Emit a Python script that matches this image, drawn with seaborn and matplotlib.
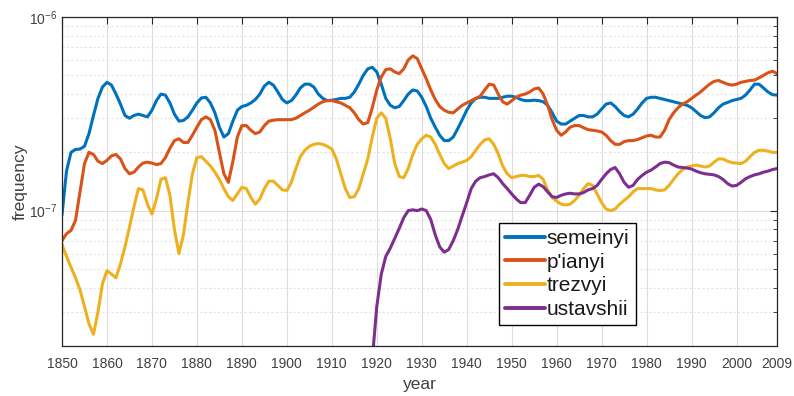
import numpy as np
import pandas as pd
import matplotlib
matplotlib.use("Agg")
import matplotlib.pyplot as plt
from matplotlib.ticker import LogLocator, NullFormatter, FixedLocator
import seaborn as sns

# Yearly relative frequencies, in units of 1e-7
years = list(range(1850, 2010))

semeinyi_e7 = [
    0.95, 1.6, 2.0, 2.07, 2.08, 2.15, 2.5, 3.1, 3.8, 4.35,
    4.6, 4.45, 4.0, 3.55, 3.1, 3.0, 3.1, 3.15, 3.1, 3.05,
    3.3, 3.7, 4.0, 3.95, 3.6, 3.15, 2.9, 2.92, 3.05, 3.3,
    3.6, 3.82, 3.85, 3.6, 3.2, 2.7, 2.4, 2.5, 2.9, 3.3,
    3.45, 3.5, 3.6, 3.75, 4.0, 4.4, 4.6, 4.45, 4.1, 3.75,
    3.6, 3.7, 3.95, 4.3, 4.5, 4.5, 4.35, 4.0, 3.8, 3.7,
    3.72, 3.75, 3.8, 3.8, 3.85, 4.1, 4.5, 5.0, 5.4, 5.5,
    5.2, 4.5, 3.8, 3.5, 3.4, 3.45, 3.7, 4.0, 4.2, 4.15,
    3.85, 3.45, 3.0, 2.7, 2.45, 2.3, 2.3, 2.4, 2.65, 2.95,
    3.3, 3.6, 3.8, 3.85, 3.85, 3.8, 3.8, 3.8, 3.85, 3.9,
    3.9, 3.85, 3.75, 3.7, 3.7, 3.72, 3.7, 3.65, 3.5, 3.2,
    2.9, 2.8, 2.8, 2.9, 3.0, 3.1, 3.1, 3.05, 3.05, 3.15,
    3.35, 3.55, 3.6, 3.45, 3.25, 3.1, 3.05, 3.15, 3.35, 3.6,
    3.8, 3.85, 3.85, 3.8, 3.75, 3.7, 3.65, 3.6, 3.55, 3.5,
    3.4, 3.25, 3.1, 3.02, 3.05, 3.2, 3.4, 3.55, 3.62, 3.7,
    3.75, 3.8, 3.95, 4.2, 4.5, 4.5, 4.3, 4.1, 3.97, 3.95,
]

pianyi_e7 = [
    0.70, 0.76, 0.79, 0.89, 1.25, 1.75, 2.0, 1.95, 1.8, 1.75,
    1.82, 1.92, 1.95, 1.85, 1.65, 1.55, 1.58, 1.68, 1.76, 1.78,
    1.76, 1.73, 1.75, 1.88, 2.1, 2.3, 2.35, 2.25, 2.25, 2.45,
    2.7, 2.95, 3.05, 2.95, 2.6, 2.0, 1.55, 1.4, 1.8, 2.4,
    2.75, 2.75, 2.6, 2.5, 2.55, 2.75, 2.9, 2.93, 2.95, 2.95,
    2.95, 2.95, 3.0, 3.1, 3.2, 3.3, 3.42, 3.55, 3.65, 3.7,
    3.7, 3.65, 3.6, 3.5, 3.4, 3.2, 2.95, 2.8, 2.85, 3.4,
    4.2, 4.9, 5.35, 5.4, 5.2, 5.1, 5.4, 6.0, 6.3, 6.1,
    5.4, 4.8, 4.2, 3.75, 3.45, 3.3, 3.22, 3.2, 3.35, 3.5,
    3.6, 3.7, 3.8, 3.9, 4.2, 4.5, 4.45, 4.0, 3.65, 3.55,
    3.7, 3.85, 3.95, 4.0, 4.1, 4.25, 4.3, 4.0, 3.5, 2.95,
    2.6, 2.45, 2.55, 2.7, 2.75, 2.75, 2.68, 2.62, 2.6, 2.58,
    2.55, 2.45, 2.3, 2.2, 2.2, 2.27, 2.3, 2.3, 2.33, 2.38,
    2.43, 2.45, 2.4, 2.4, 2.6, 2.95, 3.2, 3.4, 3.55, 3.65,
    3.8, 3.95, 4.1, 4.3, 4.5, 4.65, 4.7, 4.6, 4.5, 4.45,
    4.5, 4.6, 4.65, 4.7, 4.72, 4.85, 5.0, 5.15, 5.25, 5.1,
]

trezvyi_e7 = [
    0.67, 0.58, 0.51, 0.45, 0.39, 0.32, 0.26, 0.23, 0.30, 0.42,
    0.49, 0.47, 0.45, 0.53, 0.65, 0.82, 1.05, 1.3, 1.28, 1.08,
    0.96, 1.15, 1.45, 1.48, 1.2, 0.8, 0.6, 0.75, 1.1, 1.55,
    1.88, 1.9, 1.8, 1.7, 1.58, 1.45, 1.3, 1.18, 1.13, 1.22,
    1.32, 1.3, 1.17, 1.08, 1.15, 1.3, 1.42, 1.42, 1.35, 1.28,
    1.27, 1.4, 1.65, 1.9, 2.05, 2.15, 2.2, 2.22, 2.2, 2.15,
    2.08, 1.85, 1.55, 1.3, 1.17, 1.18, 1.3, 1.55, 1.85, 2.4,
    3.0, 3.2, 3.0, 2.35, 1.75, 1.5, 1.48, 1.65, 1.95, 2.2,
    2.35, 2.45, 2.4, 2.2, 1.95, 1.75, 1.65, 1.7, 1.75, 1.78,
    1.82, 1.9, 2.05, 2.2, 2.32, 2.35, 2.2, 1.97, 1.7, 1.55,
    1.48, 1.5, 1.52, 1.52, 1.5, 1.5, 1.52, 1.45, 1.28, 1.17,
    1.12, 1.08, 1.07, 1.08, 1.13, 1.2, 1.3, 1.38, 1.35, 1.22,
    1.1, 1.02, 1.0, 1.02, 1.08, 1.13, 1.18, 1.25, 1.3, 1.3,
    1.3, 1.3, 1.28, 1.27, 1.28, 1.35, 1.45, 1.55, 1.63, 1.68,
    1.7, 1.72, 1.7, 1.68, 1.7, 1.78, 1.85, 1.85, 1.8, 1.77,
    1.76, 1.75, 1.8, 1.9, 2.0, 2.05, 2.05, 2.03, 2.0, 2.0,
]

# "ustavshii" only appears from 1919 on
ustavshii_years = list(range(1919, 2010))
ustavshii_e7 = [
    0.17,
    0.32, 0.47, 0.58, 0.64, 0.72, 0.81, 0.92, 1.0, 1.01, 1.0,
    1.02, 1.0, 0.9, 0.75, 0.65, 0.61, 0.63, 0.7, 0.8, 0.94,
    1.1, 1.3, 1.42, 1.48, 1.5, 1.53, 1.55, 1.48, 1.38, 1.3,
    1.22, 1.15, 1.1, 1.1, 1.2, 1.32, 1.37, 1.33, 1.25, 1.18,
    1.17, 1.2, 1.22, 1.23, 1.22, 1.22, 1.24, 1.28, 1.3, 1.35,
    1.45, 1.55, 1.63, 1.67, 1.55, 1.4, 1.32, 1.35, 1.45, 1.52,
    1.58, 1.62, 1.68, 1.75, 1.78, 1.77, 1.72, 1.68, 1.67, 1.66,
    1.64, 1.6, 1.57, 1.55, 1.54, 1.53, 1.5, 1.45, 1.38, 1.34,
    1.35, 1.4, 1.46, 1.5, 1.53, 1.55, 1.58, 1.6, 1.63, 1.65,
]

words = ["semeinyi", "p'ianyi", "trezvyi", "ustavshii"]
colors = ["#0072BD", "#D95319", "#EDB120", "#7E2F8E"]
x_ticks = [1850, 1860, 1870, 1880, 1890, 1900, 1910, 1920, 1930, 1940,
           1950, 1960, 1970, 1980, 1990, 2000, 2009]

scale = 1e-7
frames = []
for word, yrs, vals in [
    (words[0], years, semeinyi_e7),
    (words[1], years, pianyi_e7),
    (words[2], years, trezvyi_e7),
    (words[3], ustavshii_years, ustavshii_e7),
]:
    frames.append(pd.DataFrame({"year": yrs,
                                "frequency": np.array(vals) * scale,
                                "word": word}))
df = pd.concat(frames, ignore_index=True)

sns.set_style("white")
plt.rcParams["font.family"] = ["Liberation Sans", "DejaVu Sans"]
plt.rcParams["mathtext.fontset"] = "custom"
plt.rcParams["mathtext.rm"] = "Liberation Sans"
plt.rcParams["mathtext.it"] = "Liberation Sans"

fig = plt.figure(figsize=(7.94, 3.96), dpi=100)
ax = fig.add_axes([62 / 794, 1 - 346 / 396, 715 / 794, 329 / 396])

sns.lineplot(data=df, x="year", y="frequency", hue="word",
             hue_order=words, palette=colors, linewidth=2.2,
             estimator=None, sort=False, ax=ax, legend=True)

ax.set_yscale("log")
ax.set_xlim(1850, 2009)
ax.set_ylim(2e-8, 1e-6)

ax.xaxis.set_major_locator(FixedLocator(x_ticks))
ax.yaxis.set_major_locator(LogLocator(base=10))
ax.yaxis.set_minor_locator(LogLocator(base=10, subs=np.arange(2, 10)))
ax.yaxis.set_minor_formatter(NullFormatter())

tick_color = "#404040"
ax.tick_params(axis="both", which="both", direction="in", top=True,
               right=True, colors="#262626", labelcolor=tick_color,
               labelsize=10)
ax.tick_params(axis="both", which="major", length=5, width=0.8)
ax.tick_params(axis="x", which="major", pad=8)
ax.tick_params(axis="y", which="minor", length=3, width=0.6)

ax.grid(True, which="major", color="#dcdcdc", linewidth=0.8, linestyle="-")
ax.grid(True, which="minor", axis="y", color="#e4e4e4", linewidth=0.8,
        linestyle=(0, (2, 2)))
ax.set_axisbelow(True)

for sp in ax.spines.values():
    sp.set_color("#262626")
    sp.set_linewidth(0.9)

ax.set_xlabel("year", fontsize=12.5, color=tick_color, labelpad=4)
ax.set_ylabel("frequency", fontsize=12.5, color=tick_color, labelpad=1)

handles, labels = ax.get_legend_handles_labels()
for h in handles:
    h.set_linewidth(2.8)
leg = ax.legend(handles, labels, loc="upper left",
                bbox_to_anchor=(0.611, 0.374), fontsize=15,
                frameon=True, fancybox=False, framealpha=1,
                edgecolor="black", borderpad=0.3, labelspacing=0.22,
                handlelength=1.9, handletextpad=0.1, borderaxespad=0)
leg.get_frame().set_linewidth(1.0)
for t in leg.get_texts():
    t.set_color("#1a1a1a")

fig.savefig("out.png", dpi=100, facecolor="white")
